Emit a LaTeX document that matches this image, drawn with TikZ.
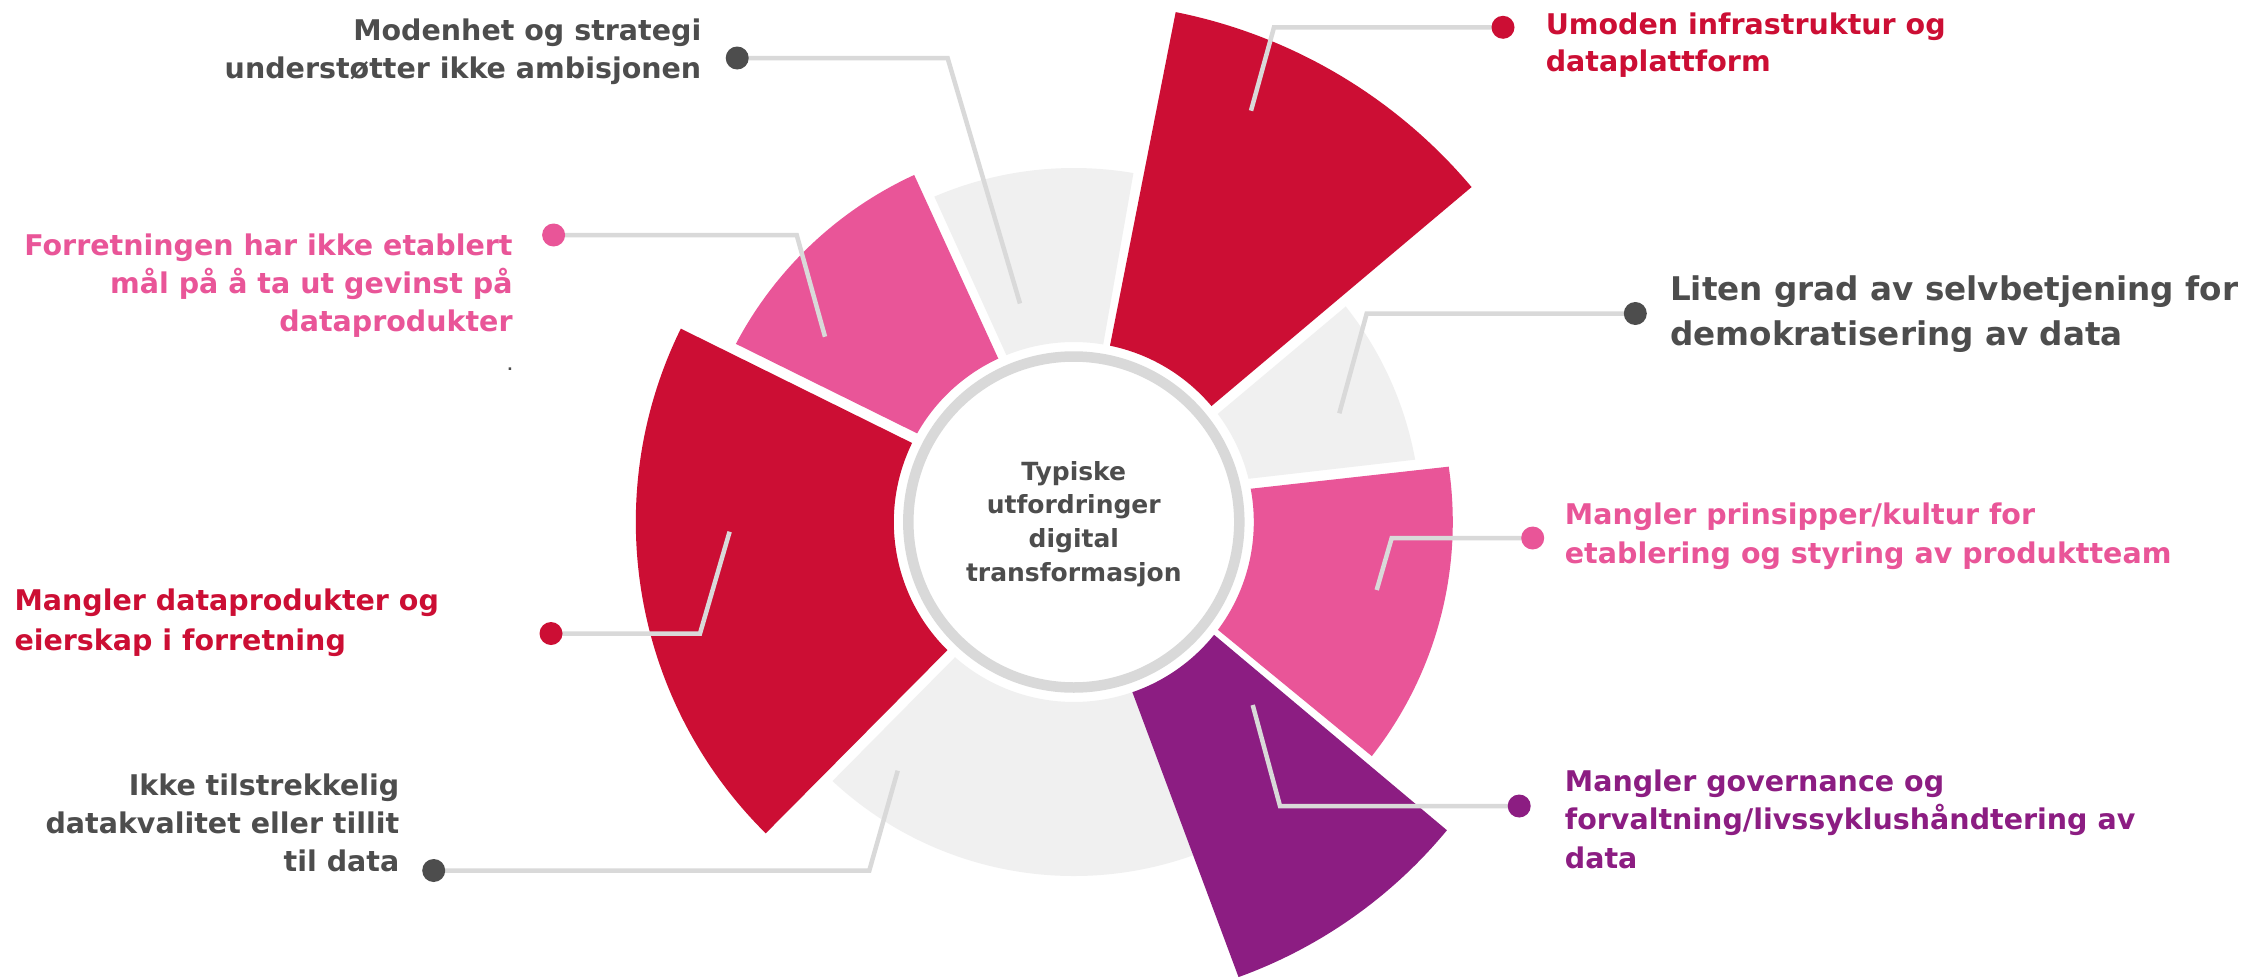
\documentclass[tikz,border=0pt]{standalone}
\usepackage{fontspec}
\setmainfont{DejaVu Sans}
\usetikzlibrary{calc}
\definecolor{cred}{HTML}{CC0E34}
\definecolor{cpink}{HTML}{E95598}
\definecolor{cpurple}{HTML}{8C1D82}
\definecolor{cgray}{HTML}{F0F0F0}
\definecolor{cline}{HTML}{D9D9D9}
\definecolor{ctext}{HTML}{4D4D4D}
\newcommand\Llines[2]{\vtop{\baselineskip=#1\relax\halign{##\hfil\cr#2\crcr}}}
\newcommand\Rlines[2]{\vtop{\baselineskip=#1\relax\halign{\hfil##\cr#2\crcr}}}
\newcommand\Clines[2]{\vtop{\baselineskip=#1\relax\halign{\hfil##\hfil\cr#2\crcr}}}
% colour, inner start, outer start, outer end, inner end, outer radius, inner radius
\newcommand\sectorfill[7]{\fill[#1] (#2:#7) -- (#3:#6) arc[start angle=#3, end angle=#4, radius=#6] -- (#5:#7) arc[start angle=#5, end angle=#2, radius=#7] -- cycle;}
\tikzset{
  leader/.style={draw=cline, line width=4.5pt},
  dotmark/.style={circle, inner sep=0pt, minimum size=23pt},
  lbl/.style={inner sep=0pt, font=\bfseries\fontsize{28.5}{38}\selectfont},
}
\begin{document}
\begin{tikzpicture}[x=1pt, y=1pt]
\useasboundingbox (0,0) rectangle (2252,-977);
\fill[white] (0,0) rectangle (2252,-977);
\coordinate (C) at (1073.8,-522);
% sectors
\begin{scope}[shift={(C)}]
\sectorfill{cred}{78.4}{78.7}{40.1}{40.1}{520}{180}
\sectorfill{cgray}{36.9}{38.4}{10.35}{13.9}{347}{180}
\sectorfill{cpink}{10.65}{8.4}{-38.15}{-36.8}{379}{180}
\sectorfill{cgray}{-70.5}{-70.0}{-132.97}{-131.3}{354}{180}
\sectorfill{cpurple}{-38.8}{-39.56}{-70.1}{-71.0}{484}{180}
\sectorfill{cred}{-134.6}{-134.7}{-206.2}{-206.04}{438}{180}
\sectorfill{cpink}{150.5}{152.2}{114.7}{114.8}{382}{180}
\sectorfill{cgray}{112}{113.2}{80.3}{80.6}{354}{180}
\end{scope}
% centre ring and title
\draw[cline, line width=10.5pt, fill=white] (C) circle[radius=165.5];
\node[inner sep=0pt, anchor=base, text=ctext, font=\bfseries\fontsize{25}{33.9}\selectfont] (title) at (1073.8,-480)
  {\Clines{33.9pt}{Typiske\cr utfordringer\cr digital\cr transformasjon}};
% leader geometry
\coordinate (b1) at (947.6,-58);   \coordinate (e1) at (1020,-303.5);
\coordinate (b2) at (796.7,-235);  \coordinate (e2) at (825,-336.7);
\coordinate (b3) at (700,-633.5);  \coordinate (e3) at (729.6,-531.7);
\coordinate (b4) at (869.3,-870.5);\coordinate (e4) at (897.7,-770.7);
\coordinate (b5) at (1274,-27.3);  \coordinate (e5) at (1251,-110.7);
\coordinate (b6) at (1366.7,-313.5);\coordinate (e6) at (1339.3,-413.3);
\coordinate (b7) at (1391.7,-538); \coordinate (e7) at (1376.7,-590);
\coordinate (b8) at (1280,-806);   \coordinate (e8) at (1252.7,-705);
% dots (as named nodes)
\node[dotmark] (d1) at (737.2,-58) {};
\node[dotmark] (d2) at (553.6,-235) {};
\node[dotmark] (d3) at (551,-633.5) {};
\node[dotmark] (d4) at (433.7,-870.5) {};
\node[dotmark] (d5) at (1503,-27.3) {};
\node[dotmark] (d6) at (1635.3,-313.5) {};
\node[dotmark] (d7) at (1532.7,-538) {};
\node[dotmark] (d8) at (1519.2,-806) {};
\foreach \i in {1,...,8} {\draw[leader] (d\i.center) -- (b\i) -- (e\i);}
% dots drawn on top of leaders
\foreach \i/\c in {1/ctext,2/cpink,3/cred,4/ctext,5/cred,6/ctext,7/cpink,8/cpurple}
  {\fill[\c] (d\i.center) circle[radius=11.5];}
% labels
\node[lbl, anchor=base east, text=ctext] (l1) at (701.5,-40)
  {\Rlines{38.3pt}{Modenhet og strategi\cr understøtter ikke ambisjonen}};
\node[lbl, anchor=base east, text=cpink] (l2) at (512.8,-255)
  {\Rlines{38.3pt}{Forretningen har ikke etablert\cr mål på å ta ut gevinst på\cr dataprodukter}};
\node[inner sep=0pt, anchor=base, text=ctext, font=\bfseries\fontsize{14}{14}\selectfont] (l2dot) at (510,-370) {.};
\node[lbl, anchor=base west, text=cred] (l3) at (14.3,-610.7)
  {\Llines{39.3pt}{Mangler dataprodukter og\cr eierskap i forretning}};
\node[lbl, anchor=base east, text=ctext] (l4) at (399.5,-795)
  {\Rlines{38pt}{Ikke tilstrekkelig\cr datakvalitet eller tillit\cr til data}};
\node[lbl, anchor=base west, text=cred] (l5) at (1545.6,-34.3)
  {\Llines{37.4pt}{Umoden infrastruktur og\cr dataplattform}};
\node[lbl, anchor=base west, text=ctext, font=\bfseries\fontsize{32.6}{45}\selectfont] (l6) at (1670,-300)
  {\Llines{45pt}{Liten grad av selvbetjening for\cr demokratisering av data}};
\node[lbl, anchor=base west, text=cpink] (l7) at (1564.7,-524.8)
  {\Llines{39pt}{Mangler prinsipper/kultur for\cr etablering og styring av produktteam}};
\node[lbl, anchor=base west, text=cpurple] (l8) at (1564.7,-791.2)
  {\Llines{38.6pt}{Mangler governance og\cr forvaltning/livssyklushåndtering av\cr data}};
\end{tikzpicture}
\end{document}
